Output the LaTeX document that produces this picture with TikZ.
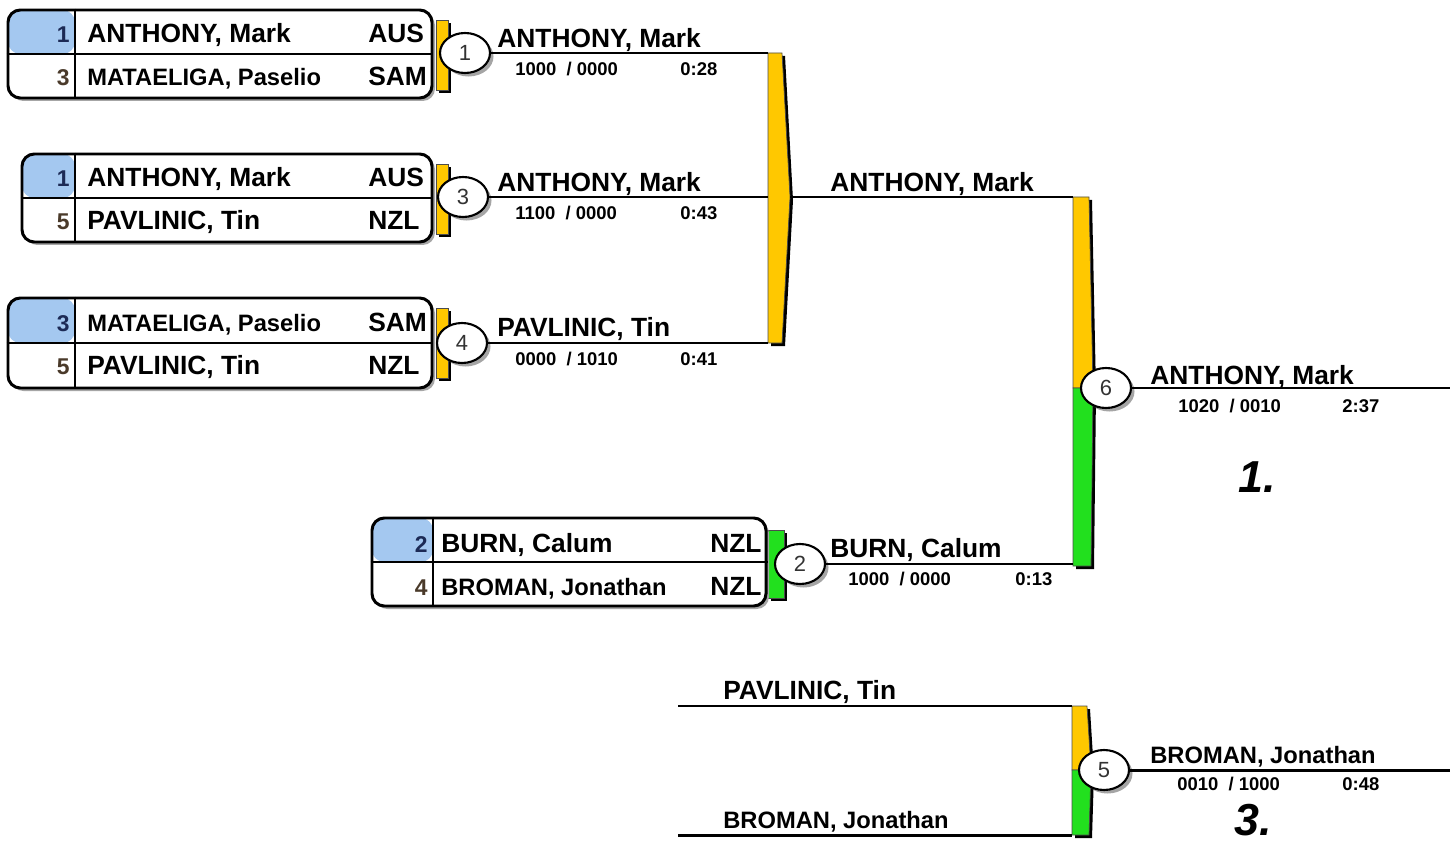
\documentclass[tikz,border=0pt]{standalone}
\usepackage{fontspec}
\setmainfont{Liberation Sans}
\usetikzlibrary{shapes.geometric,shadows,fit}
\definecolor{poolyellow}{HTML}{FFC800}
\definecolor{poolgreen}{HTML}{22E01E}
\definecolor{seedblue}{HTML}{A4C8F0}
\definecolor{seednavy}{HTML}{1C2A55}
\definecolor{seedbrown}{HTML}{4A3A2A}
\tikzstyle{wire} = [line width=1.7pt]
\tikzstyle{rule} = [line width=1.1pt]
\tikzstyle{barshadow} = [fill=black]
\tikzstyle{bar} = [draw=black!70, line width=0.4pt]
\tikzstyle{bout} = [ellipse, draw, fill=white, line width=1.2pt, inner sep=0pt,
  minimum width=1cm, minimum height=0.8cm, text=black!80,
  drop shadow={shadow xshift=2pt, shadow yshift=-2pt, fill=black!70},
  font=\fontsize{12.5}{14}\selectfont]
\tikzstyle{seed} = [inner sep=0pt, anchor=base east, font=\bfseries\fontsize{13}{16}\selectfont]
\tikzstyle{player} = [inner sep=0pt, anchor=base west, font=\bfseries\fontsize{15}{18}\selectfont]
\tikzstyle{longname} = [inner sep=0pt, anchor=base west, font=\bfseries\fontsize{13.5}{16}\selectfont]
\tikzstyle{nation} = [player]
\tikzstyle{score} = [inner sep=0pt, anchor=base west, font=\bfseries\fontsize{10.5}{12}\selectfont]
\tikzstyle{place} = [inner sep=0pt, anchor=base, font=\bfseries\itshape\fontsize{25.5}{30}\selectfont]
\tikzset{plate/.style={draw, fill=white, line width=1.7pt, rounded corners=7pt, inner sep=0pt,
  path picture={\fill[seedblue] (path picture bounding box.north west)
    rectangle ([xshift=#1]path picture bounding box.west);}}}

\begin{document}
\begin{tikzpicture}[x=0.02cm,y=-0.02cm]
    \useasboundingbox (0,0) rectangle (1450,841);
    % pool bars
    \fill[barshadow] (771,56) -- (785,56) -- (793,200) -- (785,346) -- (771,346) -- cycle;
    \filldraw[bar,fill=poolyellow] (768,53) -- (782,53) -- (790,197) -- (782,343) -- (768,343) -- cycle;
    \fill[barshadow] (1076,200) -- (1092,200) -- (1096,391) -- (1094,569) -- (1076,569) -- cycle;
    \filldraw[bar,fill=poolyellow] (1073,197) -- (1089,197) -- (1093,388) -- (1073,388) -- cycle;
    \filldraw[bar,fill=poolgreen] (1073,388) -- (1093,388) -- (1091,566) -- (1073,566) -- cycle;
    \fill[barshadow] (1075,709) -- (1090,709) -- (1094,773) -- (1092,838) -- (1075,838) -- cycle;
    \filldraw[bar,fill=poolyellow] (1072,706) -- (1087,706) -- (1091,770) -- (1072,770) -- cycle;
    \filldraw[bar,fill=poolgreen] (1072,770) -- (1091,770) -- (1089,835) -- (1072,835) -- cycle;
    % tabs
    \fill[barshadow] (439,23) rectangle (451,93);
    \filldraw[bar,fill=poolyellow] (436,20) rectangle (448,90);
    \fill[barshadow] (439,167) rectangle (451,237);
    \filldraw[bar,fill=poolyellow] (436,164) rectangle (448,234);
    \fill[barshadow] (439,311) rectangle (451,381);
    \filldraw[bar,fill=poolyellow] (436,308) rectangle (448,378);
    \fill[barshadow] (771,533) rectangle (787,601);
    \filldraw[bar,fill=poolgreen] (768,530) rectangle (784,598);

    % entry boxes
    \fill[black!35,rounded corners=7pt] (11,13) rectangle (435,101);
    \node[plate=1.34cm, fit={(8,10) (432,98)}] (box1) {};
    \fill[black!35,rounded corners=7pt] (25,157) rectangle (435,245);
    \node[plate=1.06cm, fit={(22,154) (432,242)}] (box2) {};
    \fill[black!35,rounded corners=7pt] (11,301) rectangle (435,391);
    \node[plate=1.34cm, fit={(8,298) (432,388)}] (box3) {};
    \fill[black!35,rounded corners=7pt] (375,521) rectangle (769,609);
    \node[plate=1.22cm, fit={(372,518) (766,606)}] (box4) {};
    \draw[rule] (box1.west) -- (box1.east);
    \draw[rule] (75,0 |- box1.north) -- (75,0 |- box1.south);
    \draw[rule] (box2.west) -- (box2.east);
    \draw[rule] (75,0 |- box2.north) -- (75,0 |- box2.south);
    \draw[rule] (box3.west) -- (box3.east);
    \draw[rule] (75,0 |- box3.north) -- (75,0 |- box3.south);
    \draw[rule] (box4.west) -- (box4.east);
    \draw[rule] (433,0 |- box4.north) -- (433,0 |- box4.south);

    \node[seed,text=seednavy] (b1s1) at (70,43) {1};
    \node[player] (b1p1) at (87,43) {ANTHONY, Mark};
    \node[nation] (b1n1) at (368,43) {AUS};
    \node[seed,text=seedbrown] (b1s2) at (70,86) {3};
    \node[longname] (b1p2) at (87,86) {MATAELIGA, Paselio};
    \node[nation] (b1n2) at (368,86) {SAM};

    \node[seed,text=seednavy] (b2s1) at (70,187) {1};
    \node[player] (b2p1) at (87,187) {ANTHONY, Mark};
    \node[nation] (b2n1) at (368,187) {AUS};
    \node[seed,text=seedbrown] (b2s2) at (70,230) {5};
    \node[player] (b2p2) at (87,230) {PAVLINIC, Tin};
    \node[nation] (b2n2) at (368,230) {NZL};

    \node[seed,text=seednavy] (b3s1) at (70,331) {3};
    \node[longname] (b3p1) at (87,331) {MATAELIGA, Paselio};
    \node[nation] (b3n1) at (368,331) {SAM};
    \node[seed,text=seedbrown] (b3s2) at (70,374) {5};
    \node[player] (b3p2) at (87,374) {PAVLINIC, Tin};
    \node[nation] (b3n2) at (368,374) {NZL};

    \node[seed,text=seednavy] (b4s1) at (428,552) {2};
    \node[player] (b4p1) at (441,552) {BURN, Calum};
    \node[nation] (b4n1) at (710,552) {NZL};
    \node[seed,text=seedbrown] (b4s2) at (428,595) {4};
    \node[longname] (b4p2) at (441,595) {BROMAN, Jonathan};
    \node[nation] (b4n2) at (710,595) {NZL};

    % bouts and wires
    \coordinate (p2a) at (768,53);
    \coordinate (p2b) at (768,197);
    \coordinate (p2c) at (768,343);
    \coordinate (p2out) at (790,197);
    \coordinate (p6a) at (1073,197);
    \coordinate (p6b) at (1073,564);
    \coordinate (e6) at (1450,388);
    \coordinate (p5a) at (1072,706);
    \coordinate (p5b) at (1072,835);
    \coordinate (q5a) at (678,706);
    \coordinate (q5b) at (678,835);
    \coordinate (e5) at (1450,770);
    \node[bout] (m1) at (465,53) {1};
    \node[bout] (m3) at (463,197) {3};
    \node[bout] (m4) at (462,343) {4};
    \node[bout] (m2) at (800,564) {2};
    \node[bout] (m6) at (1106,388) {6};
    \node[bout] (m5) at (1104,770) {5};
    \draw[wire] (m1) -- (p2a);
    \draw[wire] (m3) -- (p2b);
    \draw[wire] (m4) -- (p2c);
    \draw[wire] (p2out) -- (p6a);
    \draw[wire] (m2) -- (p6b);
    \draw[wire] (m6) -- (e6);
    \draw[wire] (q5a) -- (p5a);
    \draw[wire] (q5b) -- (p5b);
    \draw[wire] (m5) -- (e5);

    % results
    \node[player] (w1) at (497,48) {ANTHONY, Mark};
    \node[score] (s1) at (515,76) {1000\ \ / 0000};
    \node[score] (t1) at (680,76) {0:28};
    \node[player] (w3) at (497,192) {ANTHONY, Mark};
    \node[score] (s3) at (515,220) {1100\ \ / 0000};
    \node[score] (t3) at (680,220) {0:43};
    \node[player] (w4) at (497,336) {PAVLINIC, Tin};
    \node[score] (s4) at (515,365) {0000\ \ / 1010};
    \node[score] (t4) at (680,365) {0:41};
    \node[player] (wpool) at (830,192) {ANTHONY, Mark};
    \node[player] (w2) at (830,557) {BURN, Calum};
    \node[score] (s2) at (848,585) {1000\ \ / 0000};
    \node[score] (t2) at (1015,585) {0:13};
    \node[player] (w6) at (1150,384) {ANTHONY, Mark};
    \node[score] (s6) at (1178,412) {1020\ \ / 0010};
    \node[score] (t6) at (1342,412) {2:37};
    \node[place] (first) at (1257,492) {1.};
    \node[player] (l5a) at (723,699) {PAVLINIC, Tin};
    \node[longname] (l5b) at (723,828) {BROMAN, Jonathan};
    \node[longname] (w5) at (1150,763) {BROMAN, Jonathan};
    \node[score] (s5) at (1177,790) {0010\ \ / 1000};
    \node[score] (t5) at (1342,790) {0:48};
    \node[place] (third) at (1253,835) {3.};
\end{tikzpicture}
\end{document}
